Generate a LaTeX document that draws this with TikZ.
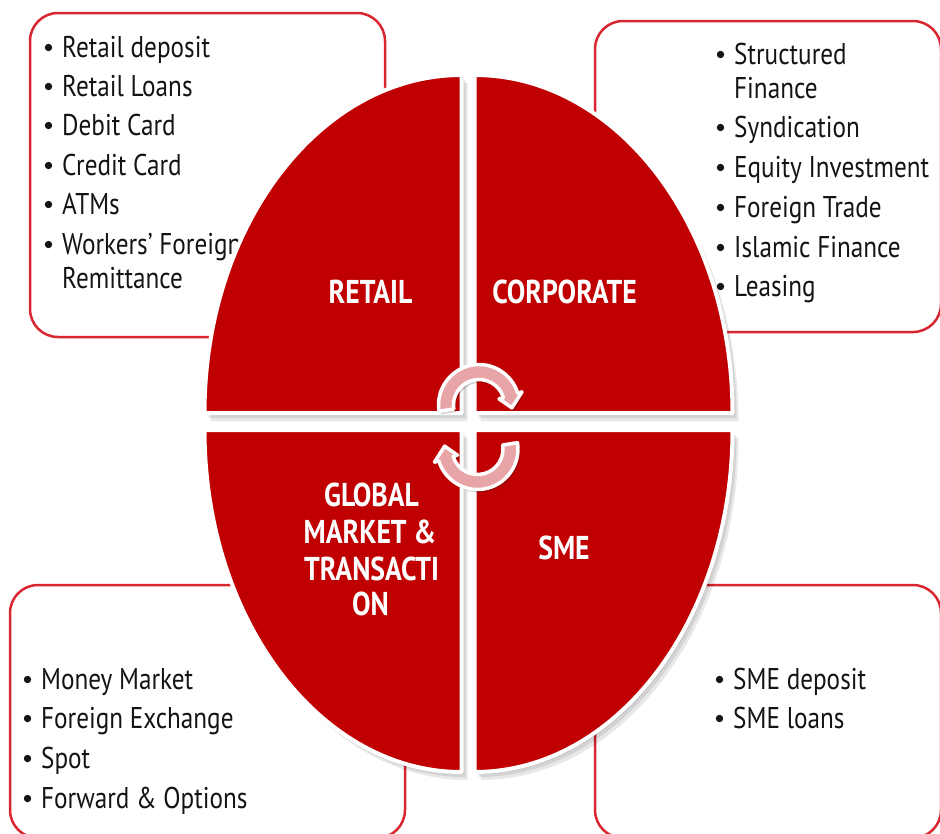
\documentclass[tikz,border=0pt]{standalone}
\usepackage{fontspec}
\setmainfont{PT Sans}[FakeStretch=0.84]
\definecolor{quadred}{RGB}{192,0,0}
\definecolor{boxred}{RGB}{218,38,48}
\definecolor{arrowpink}{RGB}{232,165,168}
\definecolor{inktext}{RGB}{20,20,20}
\tikzset{
  listbox/.style={draw=boxred, line width=2.5pt, fill=white, rounded corners=28pt},
  quad/.style={fill=quadred, draw=white, line width=4pt, line join=round},
  quadshadow/.style={fill=black, opacity=0.09},
  itemtext/.style={anchor=base west, inner sep=0pt, font=\fontsize{30}{34}\selectfont, text=inktext},
  bulletdot/.style={fill=inktext},
  heading/.style={inner sep=0pt, anchor=base, font=\bfseries\fontsize{33}{36}\selectfont, text=white},
  cyclearrow/.style={fill=arrowpink, draw=white, line width=3.5pt, line join=round},
  arrowshadow/.style={fill=black, opacity=0.18},
}
\newcommand{\listitem}[4]{%
  \fill[bulletdot] (#2-13.5,#3-9.5) circle[radius=3.7];
  \node[itemtext] (#1) at (#2,#3) {#4};}
\newcommand{\drawquads}[1]{%
  \path[#1] (461.5,413) -- (204.5,413) arc[start angle=180,end angle=270,x radius=257,y radius=338] -- cycle;
  \path[#1] (474.5,413) -- (474.5,75) arc[start angle=270,end angle=360,x radius=258,y radius=338] -- cycle;
  \path[#1] (461.5,430) -- (204.5,430) arc[start angle=180,end angle=90,x radius=257,y radius=342] -- cycle;
  \path[#1] (474.5,430) -- (732.5,430) arc[start angle=0,end angle=90,x radius=258,y radius=342] -- cycle;}
\newcommand{\cyclepath}[2]{%
  \path[#1] (171+#2:40.5) arc[start angle=171+#2,end angle=343+#2,radius=40.5]
    -- (343+#2:45) -- (5+#2:33) -- (343+#2:21) -- (343+#2:25.5)
    arc[start angle=343+#2,end angle=171+#2,radius=25.5] -- cycle;}
\begin{document}
\begin{tikzpicture}[x=1pt,y=1pt,yscale=-1]
  \useasboundingbox (0,0) rectangle (940,833);
  \clip (0,0) rectangle (940,833);
  \fill[white] (0,0) rectangle (940,833);

  % list boxes
  \draw[listbox] (30,13) rectangle (385,337);
  \draw[listbox] (595,21) rectangle (941,332);
  \draw[listbox] (10,585) rectangle (405,838);
  \draw[listbox] (595,585) rectangle (941,838);

  % retail list
  \listitem{r1}{62}{57}{Retail deposit}
  \listitem{r2}{62}{96}{Retail Loans}
  \listitem{r3}{62}{135}{Debit Card}
  \listitem{r4}{62}{175}{Credit Card}
  \listitem{r5}{62}{214}{ATMs}
  \listitem{r6}{62}{254}{Workers’ Foreign}
  \node[itemtext] (r6b) at (62,288) {Remittance};

  % corporate list
  \listitem{c1}{734}{64}{Structured}
  \node[itemtext] (c1b) at (734,98) {Finance};
  \listitem{c2}{734}{137}{Syndication}
  \listitem{c3}{734}{177}{Equity Investment}
  \listitem{c4}{734}{217}{Foreign Trade}
  \listitem{c5}{734}{257}{Islamic Finance}
  \listitem{c6}{734}{296}{Leasing}

  % global market list
  \listitem{g1}{41}{689}{Money Market}
  \listitem{g2}{41}{728}{Foreign Exchange}
  \listitem{g3}{41}{768}{Spot}
  \listitem{g4}{41}{808}{Forward \& Options}

  % sme list
  \listitem{s1}{733}{689}{SME deposit}
  \listitem{s2}{733}{728}{SME loans}

  % ellipse quadrants with soft shadow
  \drawquads{quadshadow, shift={(2,2)}}
  \drawquads{quadshadow, shift={(4,5)}}
  \drawquads{quadshadow, shift={(6,8)}}
  \drawquads{quad}

  % headings
  \node[heading] (retail) at (370.5,303) {RETAIL};
  \node[heading] (corporate) at (564.5,303) {CORPORATE};
  \node[heading] (gm1) at (371.5,506) {GLOBAL};
  \node[heading] (gm2) at (370,543) {MARKET \&};
  \node[heading] (gm3) at (371.5,580) {TRANSACTI};
  \node[heading] (gm4) at (370.5,615) {ON};
  \node[heading] (sme) at (564,559.5) {SME};

  % cycle arrows
  \begin{scope}[shift={(479,405)}]
    \cyclepath{arrowshadow, shift={(2,3)}}{0}
    \cyclepath{cyclearrow}{0}
  \end{scope}
  \begin{scope}[shift={(477.5,449)}]
    \cyclepath{arrowshadow, shift={(2,3)}}{180}
    \cyclepath{cyclearrow}{180}
  \end{scope}
\end{tikzpicture}
\end{document}
